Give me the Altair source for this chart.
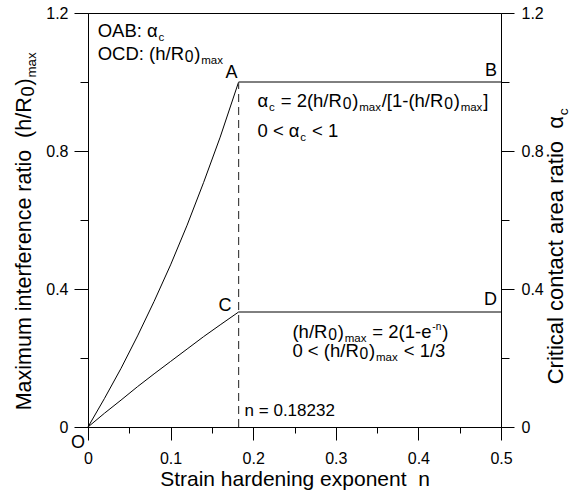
import altair as alt
import pandas as pd

FONT = "Liberation Sans"
NB = "\u00a0"

# ---------------- data ----------------
n_vals = [0, 0.02, 0.04, 0.06, 0.08, 0.10, 0.12, 0.14, 0.16, 0.18232, 0.5]
alpha_c = [0, 0.083, 0.170, 0.264, 0.364, 0.470, 0.585, 0.709, 0.840, 1.0, 1.0]
h_max = [0, 0.040, 0.078, 0.117, 0.154, 0.190, 0.226, 0.262, 0.296, 0.3333, 0.3333]
n_crit = 0.18232
dash_y = [0, 1.0]

x_major_ticks = [0, 0.1, 0.2, 0.3, 0.4, 0.5]
x_minor_ticks = [0.05, 0.15, 0.25, 0.35, 0.45]
y_major_ticks = [0, 0.4, 0.8, 1.2]
y_minor_ticks = [0.2, 0.6, 1.0]

x_title = "Strain hardening exponent" + NB + " n"

# rich-text runs: (text, kind) kind: n normal, z subscript zero, s small subscript, p superscript
legend1 = [("OAB: α", "n"), ("c", "s")]
legend2 = [("OCD: (h/R", "n"), ("0", "z"), (")", "n"), ("max", "s")]
formula1 = [("α", "n"), ("c", "s"), (" = 2(h/R", "n"), ("0", "z"), (")", "n"), ("max", "s"),
            ("/[1-(h/R", "n"), ("0", "z"), (")", "n"), ("max", "s"), ("]", "n")]
formula2 = [("0 < α", "n"), ("c", "s"), (" < 1", "n")]
formula3 = [("(h/R", "n"), ("0", "z"), (")", "n"), ("max", "s"), (" = 2(1-e", "n"), ("-n", "p"), (")", "n")]
formula4 = [("0 < (h/R", "n"), ("0", "z"), (")", "n"), ("max", "s"), (" < 1/3", "n")]
left_title = [("Maximum interference ratio" + NB + " (h/R", "n"), ("0", "z"), (")", "n"), ("max", "s")]
right_title = [("Critical contact area ratio" + NB + " α", "n"), ("c", "s")]

# annotation anchors (n, value) in data units
anchors = {
    "legend1": (0.0117, 1.130),
    "legend2": (0.0117, 1.064),
    "formula1": (0.2052, 0.9275),
    "formula2": (0.2052, 0.8406),
    "formula3": (0.2475, 0.258),
    "formula4": (0.2475, 0.203),
}
point_labels = [("A", n_crit, 1.0, -1, -4), ("B", 0.5, 1.0, -4, -6),
                ("C", n_crit, 0.3333, -7, -1), ("D", 0.5, 0.3333, -4, -7),
                ("O", 0.0, 0.0, -3, 21)]

# ---------------- helpers ----------------
ADV = {' ': 278, NB: 278, '(': 333, ')': 333, '/': 278, '[': 278, ']': 278, '-': 333, '=': 584,
       '<': 584, ':': 278, '.': 278, 'A': 667, 'B': 667, 'C': 722, 'D': 722, 'M': 833, 'O': 778,
       'R': 722, 'a': 556, 'c': 500, 'e': 556, 'f': 278, 'h': 556, 'i': 222, 'l': 222, 'm': 833,
       'n': 556, 'o': 556, 'r': 333, 't': 278, 'u': 556, 'x': 500, 'α': 578}
GAP = 0.8  # small gap on both sides of a sub/superscript


def adv(s, size):
    return sum(ADV.get(ch, 556) for ch in s) * size / 1000.0


def style(kind, F):
    if kind == "z":
        return round(F * 0.85, 1), F * 0.12
    if kind == "s":
        return round(F * 0.62, 1), F * 0.22
    if kind == "p":
        return round(F * 0.55, 1), -F * 0.42
    return F, 0.0


def layout(runs, F):
    out = []
    off = 0.0
    for txt, kind in runs:
        size, dy = style(kind, F)
        lead = len(txt) - len(txt.lstrip(" "))
        off += adv(" " * lead, size)
        if kind != "n":
            off += GAP
        out.append((txt.strip(" ").replace(" ", NB), size, off, dy))
        off += adv(txt.lstrip(" "), size)
        if kind != "n":
            off += GAP
    return out, off


W, H = 413, 414
xs = alt.Scale(domain=[0, 0.5], nice=False, zero=False)
ys = alt.Scale(domain=[0, 1.2], nice=False, zero=False)

AX_COMMON = dict(labelFlush=False, grid=False, labelFont=FONT, labelFontSize=16,
                 labelColor="black", tickColor="black", domainColor="black",
                 domainWidth=1, tickWidth=1, labelOverlap=False)

X_AX = alt.Axis(values=x_major_ticks, format=".1~f", orient="bottom", title=x_title,
                titleFont=FONT, titleFontSize=21, titleFontWeight="normal", titleColor="black",
                titleBaseline="alphabetic", titleAlign="center", titleX=W / 2, titleY=58,
                tickSize=13, labelPadding=10, **AX_COMMON)
Y_AX = alt.Axis(values=y_major_ticks, format=".1~f", orient="left", title=None,
                tickSize=14, labelPadding=6, **AX_COMMON)
Y_AX_R = alt.Axis(values=y_major_ticks, format=".1~f", orient="right", title=None,
                  tickSize=13, labelPadding=7, **AX_COMMON)
X_MINOR = alt.Axis(values=x_minor_ticks, orient="bottom", title=None, labels=False,
                   domain=False, tickSize=6, grid=False, tickColor="black", tickWidth=1)
Y_MINOR = alt.Axis(values=y_minor_ticks, orient="left", title=None, labels=False,
                   domain=False, tickSize=8, grid=False, tickColor="black", tickWidth=1)
Y_MINOR_R = alt.Axis(values=y_minor_ticks, orient="right", title=None, labels=False,
                     domain=False, tickSize=8, grid=False, tickColor="black", tickWidth=1)


def enc_data(ch):
    return ch.encode(x=alt.X("n:Q", scale=xs, axis=X_AX), y=alt.Y("v:Q", scale=ys, axis=Y_AX))


def rich(runs, F, data=None, xpix=None, ypix=None, angle=None, center=False):
    pieces, total = layout(runs, F)
    layers = []
    for t, size, off, dy in pieces:
        kw = dict(text=t, align="left", baseline="alphabetic", dx=round(off, 2), dy=round(dy, 2),
                  fontSize=size, font=FONT, color="black")
        if angle is not None:
            kw["angle"] = angle
        if data is not None:
            ch = enc_data(alt.Chart(data).mark_text(**kw))
        else:
            yy = ypix + total / 2 if center else ypix
            ch = alt.Chart(pd.DataFrame({"k": [0]})).mark_text(**kw).encode(
                x=alt.value(xpix), y=alt.value(round(yy, 2)))
        layers.append(ch)
    return layers


# ---------------- chart ----------------
rows = []
for n, a, h in zip(n_vals, alpha_c, h_max):
    rows.append({"series": "OAB", "n": n, "v": a})
    rows.append({"series": "OCD", "n": n, "v": h})
lines_df = pd.DataFrame(rows)
lines_df["i"] = range(len(lines_df))

lines = enc_data(alt.Chart(lines_df).mark_line(color="black", strokeWidth=1)).encode(
    detail="series:N", order="i:Q")

dash = alt.Chart(pd.DataFrame({"n": [n_crit], "v": [dash_y[0]], "v2": [dash_y[1]]})).mark_rule(
    color="#444444", strokeWidth=1.2, strokeDash=[8, 5]).encode(
    x=alt.X("n:Q", scale=xs, axis=X_AX), y=alt.Y("v:Q", scale=ys, axis=Y_AX), y2="v2:Q")

nlabel = enc_data(alt.Chart(pd.DataFrame({"n": [n_crit], "v": [0.032]})).mark_text(
    text="n = " + str(n_crit), align="left", baseline="alphabetic", dx=6, fontSize=17,
    font=FONT, color="black"))

layers = [lines, dash, nlabel]

for lab, n, v, dx, dy in point_labels:
    layers.append(enc_data(alt.Chart(pd.DataFrame({"n": [n], "v": [v]})).mark_text(
        text=lab, align="right", baseline="alphabetic", dx=dx, dy=dy, fontSize=18,
        font=FONT, color="black")))

F = 18.5
for key, runs in [("legend1", legend1), ("legend2", legend2), ("formula1", formula1),
                  ("formula2", formula2), ("formula3", formula3), ("formula4", formula4)]:
    n, v = anchors[key]
    layers += rich(runs, F, data=pd.DataFrame({"n": [n], "v": [v]}))

# axis titles with sub-scripts, drawn as rotated text (centred on the plot side)
layers += rich(left_title, 21.5, xpix=-57, ypix=218, angle=270, center=True)
layers += rich(right_title, 22, xpix=W + 62, ypix=233, angle=270, center=True)

main = alt.layer(*layers)


def ghost(xaxis, yaxis):
    return alt.Chart(lines_df).mark_line(opacity=0).encode(
        x=alt.X("n:Q", scale=xs, axis=xaxis),
        y=alt.Y("v:Q", scale=ys, axis=yaxis),
        detail="series:N",
    )


chart = alt.layer(
    main,
    ghost(None, Y_AX_R),
    ghost(X_MINOR, None),
    ghost(None, Y_MINOR),
    ghost(None, Y_MINOR_R),
).resolve_axis(x="independent", y="independent").properties(
    width=W, height=H,
    padding={"left": 88, "top": 13, "right": 575 - 88 - W, "bottom": 492 - 13 - H},
    autosize=alt.AutoSizeParams(type="none"),
).configure_view(stroke="black", strokeWidth=1)

chart.save("out.html", embed_options={"renderer": "svg", "actions": False})
